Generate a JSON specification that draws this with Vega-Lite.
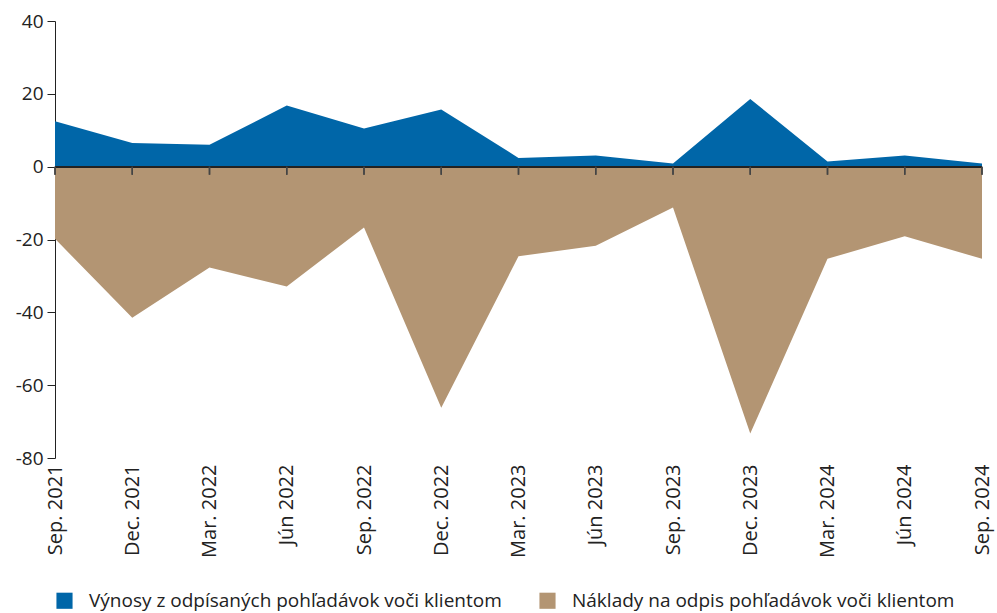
{
  "$schema": "https://vega.github.io/schema/vega-lite/v6.json",
  "width": 927,
  "height": 437,
  "padding": {"left": 15, "top": 12, "right": 15, "bottom": 5},
  "background": "white",
  "config": {
    "view": {"stroke": null},
    "font": "Open Sans",
    "axis": {"labelFont": "Open Sans", "labelFontSize": 18, "labelColor": "#222222", "grid": false},
    "legend": {"labelFont": "Open Sans", "labelFontSize": 19, "labelColor": "#222222", "labelLimit": 0}
  },
  "data": {
    "values": [
      {"q": "Sep. 2021", "s": "Výnosy z odpísaných pohľadávok voči klientom", "v": 12.5},
      {"q": "Dec. 2021", "s": "Výnosy z odpísaných pohľadávok voči klientom", "v": 6.5},
      {"q": "Mar. 2022", "s": "Výnosy z odpísaných pohľadávok voči klientom", "v": 6.0},
      {"q": "Jún 2022", "s": "Výnosy z odpísaných pohľadávok voči klientom", "v": 16.8},
      {"q": "Sep. 2022", "s": "Výnosy z odpísaných pohľadávok voči klientom", "v": 10.5},
      {"q": "Dec. 2022", "s": "Výnosy z odpísaných pohľadávok voči klientom", "v": 15.7},
      {"q": "Mar. 2023", "s": "Výnosy z odpísaných pohľadávok voči klientom", "v": 2.4},
      {"q": "Jún 2023", "s": "Výnosy z odpísaných pohľadávok voči klientom", "v": 3.1},
      {"q": "Sep. 2023", "s": "Výnosy z odpísaných pohľadávok voči klientom", "v": 0.9},
      {"q": "Dec. 2023", "s": "Výnosy z odpísaných pohľadávok voči klientom", "v": 18.6},
      {"q": "Mar. 2024", "s": "Výnosy z odpísaných pohľadávok voči klientom", "v": 1.4},
      {"q": "Jún 2024", "s": "Výnosy z odpísaných pohľadávok voči klientom", "v": 3.1},
      {"q": "Sep. 2024", "s": "Výnosy z odpísaných pohľadávok voči klientom", "v": 0.9},
      {"q": "Sep. 2021", "s": "Náklady na odpis pohľadávok voči klientom", "v": -19.8},
      {"q": "Dec. 2021", "s": "Náklady na odpis pohľadávok voči klientom", "v": -41.5},
      {"q": "Mar. 2022", "s": "Náklady na odpis pohľadávok voči klientom", "v": -27.7},
      {"q": "Jún 2022", "s": "Náklady na odpis pohľadávok voči klientom", "v": -32.9},
      {"q": "Sep. 2022", "s": "Náklady na odpis pohľadávok voči klientom", "v": -16.7},
      {"q": "Dec. 2022", "s": "Náklady na odpis pohľadávok voči klientom", "v": -66.2},
      {"q": "Mar. 2023", "s": "Náklady na odpis pohľadávok voči klientom", "v": -24.6},
      {"q": "Jún 2023", "s": "Náklady na odpis pohľadávok voči klientom", "v": -21.7},
      {"q": "Sep. 2023", "s": "Náklady na odpis pohľadávok voči klientom", "v": -11.2},
      {"q": "Dec. 2023", "s": "Náklady na odpis pohľadávok voči klientom", "v": -73.3},
      {"q": "Mar. 2024", "s": "Náklady na odpis pohľadávok voči klientom", "v": -25.3},
      {"q": "Jún 2024", "s": "Náklady na odpis pohľadávok voči klientom", "v": -19.1},
      {"q": "Sep. 2024", "s": "Náklady na odpis pohľadávok voči klientom", "v": -25.3}
    ]
  },
  "layer": [
    {
      "mark": {"type": "area", "interpolate": "linear"},
      "encoding": {
        "x": {"field": "q", "type": "ordinal", "sort": null, "scale": {"type": "point", "padding": 0},
              "axis": {"title": null, "labelAngle": -90, "ticks": false, "domain": false, "labelPadding": 6, "labelFontSize": 20, "orient": "bottom"}},
        "y": {"field": "v", "type": "quantitative", "stack": null,
              "scale": {"domain": [-80, 40], "nice": false},
              "axis": {"title": null, "values": [-80, -60, -40, -20, 0, 20, 40], "labelExpr": "'' + datum.value", "labelFontSize": 19, "tickSize": 8, "tickColor": "#222222", "domainColor": "#222222", "labelPadding": 4}},
        "color": {"field": "s", "type": "nominal",
                  "scale": {"domain": ["Výnosy z odpísaných pohľadávok voči klientom", "Náklady na odpis pohľadávok voči klientom"], "range": ["#0066A8", "#B39573"]},
                  "legend": {"title": null, "orient": "bottom", "direction": "horizontal", "symbolType": "square", "symbolSize": 260, "symbolOpacity": 1, "columnPadding": 36, "labelOffset": 15, "offset": 33}}
      }
    },
    {
      "mark": {"type": "rule", "color": "#222222", "strokeWidth": 1.5},
      "encoding": {"y": {"datum": 0}}
    },
    {
      "mark": {"type": "rule", "color": "#444444", "strokeWidth": 1.5},
      "encoding": {
        "x": {"field": "q", "type": "ordinal", "sort": null},
        "y": {"datum": 0},
        "y2": {"datum": -2.2}
      }
    }
  ]
}
